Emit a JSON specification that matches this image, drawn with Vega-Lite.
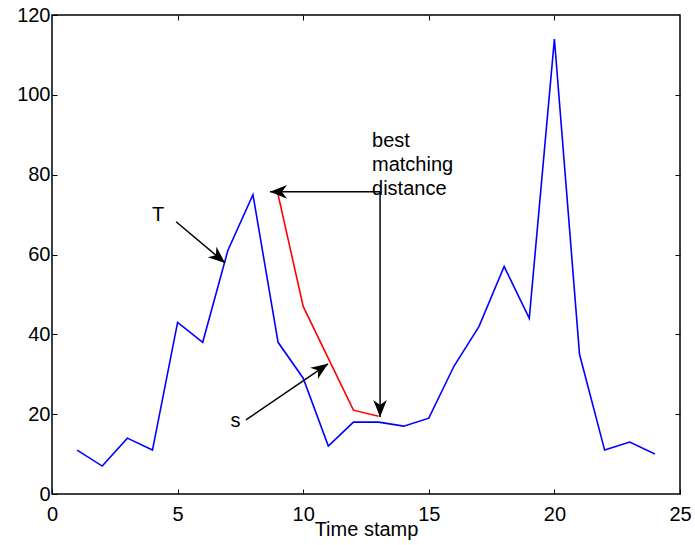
{
  "$schema": "https://vega.github.io/schema/vega-lite/v6.json",
  "width": 628,
  "height": 479,
  "autosize": {"type": "none"},
  "padding": {"left": 52, "top": 15, "right": 15, "bottom": 51},
  "background": "white",
  "config": {
    "view": {"stroke": "black", "strokeWidth": 1.5},
    "font": "Liberation Sans",
    "axis": {
      "grid": false,
      "domain": false,
      "tickColor": "black",
      "tickWidth": 1,
      "tickSize": -5,
      "labelColor": "black",
      "labelFont": "Liberation Sans",
      "labelFontSize": 20,
      "labelFlush": false,
      "labelOverlap": false,
      "titleColor": "black",
      "titleFont": "Liberation Sans",
      "titleFontSize": 20,
      "titleFontWeight": "normal"
    }
  },
  "datasets": {
    "T": [
      {"t": 1, "v": 11}, {"t": 2, "v": 7}, {"t": 3, "v": 14}, {"t": 4, "v": 11},
      {"t": 5, "v": 43}, {"t": 6, "v": 38}, {"t": 7, "v": 61}, {"t": 8, "v": 75},
      {"t": 9, "v": 38}, {"t": 10, "v": 29}, {"t": 11, "v": 12}, {"t": 12, "v": 18},
      {"t": 13, "v": 18}, {"t": 14, "v": 17}, {"t": 15, "v": 19}, {"t": 16, "v": 32},
      {"t": 17, "v": 42}, {"t": 18, "v": 57}, {"t": 19, "v": 44}, {"t": 20, "v": 114},
      {"t": 21, "v": 35}, {"t": 22, "v": 11}, {"t": 23, "v": 13}, {"t": 24, "v": 10}
    ],
    "s": [
      {"t": 9, "v": 75}, {"t": 10, "v": 47}, {"t": 11, "v": 34}, {"t": 12, "v": 21}, {"t": 13, "v": 19.5}
    ],
    "arrows": [
      {"name": "T", "x": 4.94, "y": 68.2, "x2": 6.89, "y2": 57.9},
      {"name": "s", "x": 7.72, "y": 18.55, "x2": 10.99, "y2": 32.6},
      {"name": "h", "x": 13.06, "y": 75.7, "x2": 8.68, "y2": 75.7},
      {"name": "v", "x": 13.06, "y": 75.7, "x2": 13.06, "y2": 19.3}
    ],
    "labels": [
      {"x": 4.22, "y": 69.9, "text": "T"},
      {"x": 7.3, "y": 18.2, "text": "s"}
    ],
    "note": [
      {"x": 12.74, "y": 86.97, "text": "best"},
      {"x": 12.74, "y": 80.95, "text": "matching"},
      {"x": 12.74, "y": 74.94, "text": "distance"}
    ]
  },
  "resolve": {"axis": {"x": "independent", "y": "independent"}},
  "layer": [
    {
      "data": {"name": "T"},
      "mark": {"type": "line", "color": "#0000ff", "strokeWidth": 1.6},
      "encoding": {
        "x": {"field": "t", "type": "quantitative", "scale": {"domain": [0, 25], "nice": false},
              "axis": {"orient": "bottom", "values": [0, 5, 10, 15, 20, 25], "title": "Time stamp", "labelPadding": 15, "titleY": 41, "titleBaseline": "alphabetic"}},
        "y": {"field": "v", "type": "quantitative", "scale": {"domain": [0, 120], "nice": false},
              "axis": {"orient": "left", "values": [0, 20, 40, 60, 80, 100, 120], "title": null, "labelPadding": 7}}
      }
    },
    {
      "data": {"name": "s"},
      "mark": {"type": "line", "color": "#ff0000", "strokeWidth": 1.6},
      "encoding": {
        "x": {"field": "t", "type": "quantitative",
              "axis": {"orient": "top", "values": [5, 10, 15, 20], "labels": false, "title": null}},
        "y": {"field": "v", "type": "quantitative",
              "axis": {"orient": "right", "values": [20, 40, 60, 80, 100], "labels": false, "title": null}}
      }
    },
    {
      "data": {"name": "arrows"},
      "mark": {"type": "rule", "color": "black", "strokeWidth": 1.5},
      "encoding": {
        "x": {"field": "x", "type": "quantitative", "axis": null},
        "y": {"field": "y", "type": "quantitative", "axis": null},
        "x2": {"field": "x2"},
        "y2": {"field": "y2"}
      }
    },
    {
      "data": {"name": "arrows"},
      "transform": [{"filter": "datum.name === 'T'"}],
      "mark": {"type": "point", "shape": "M0,0L0.8,2L0,1.4L-0.8,2Z", "filled": true, "color": "black", "opacity": 1, "size": 289, "angle": 129.9},
      "encoding": {
        "x": {"field": "x2", "type": "quantitative", "axis": null},
        "y": {"field": "y2", "type": "quantitative", "axis": null}
      }
    },
    {
      "data": {"name": "arrows"},
      "transform": [{"filter": "datum.name === 's'"}],
      "mark": {"type": "point", "shape": "M0,0L0.8,2L0,1.4L-0.8,2Z", "filled": true, "color": "black", "opacity": 1, "size": 289, "angle": 55.7},
      "encoding": {
        "x": {"field": "x2", "type": "quantitative", "axis": null},
        "y": {"field": "y2", "type": "quantitative", "axis": null}
      }
    },
    {
      "data": {"name": "arrows"},
      "transform": [{"filter": "datum.name === 'h'"}],
      "mark": {"type": "point", "shape": "M0,0L0.8,2L0,1.4L-0.8,2Z", "filled": true, "color": "black", "opacity": 1, "size": 289, "angle": 270},
      "encoding": {
        "x": {"field": "x2", "type": "quantitative", "axis": null},
        "y": {"field": "y2", "type": "quantitative", "axis": null}
      }
    },
    {
      "data": {"name": "arrows"},
      "transform": [{"filter": "datum.name === 'v'"}],
      "mark": {"type": "point", "shape": "M0,0L0.8,2L0,1.4L-0.8,2Z", "filled": true, "color": "black", "opacity": 1, "size": 289, "angle": 180},
      "encoding": {
        "x": {"field": "x2", "type": "quantitative", "axis": null},
        "y": {"field": "y2", "type": "quantitative", "axis": null}
      }
    },
    {
      "data": {"name": "labels"},
      "mark": {"type": "text", "font": "Liberation Sans", "fontSize": 20, "color": "black", "align": "center", "baseline": "middle"},
      "encoding": {
        "x": {"field": "x", "type": "quantitative", "axis": null},
        "y": {"field": "y", "type": "quantitative", "axis": null},
        "text": {"field": "text"}
      }
    },
    {
      "data": {"name": "note"},
      "mark": {"type": "text", "font": "Liberation Sans", "fontSize": 20, "color": "black", "align": "left", "baseline": "alphabetic"},
      "encoding": {
        "x": {"field": "x", "type": "quantitative", "axis": null},
        "y": {"field": "y", "type": "quantitative", "axis": null},
        "text": {"field": "text"}
      }
    }
  ]
}
